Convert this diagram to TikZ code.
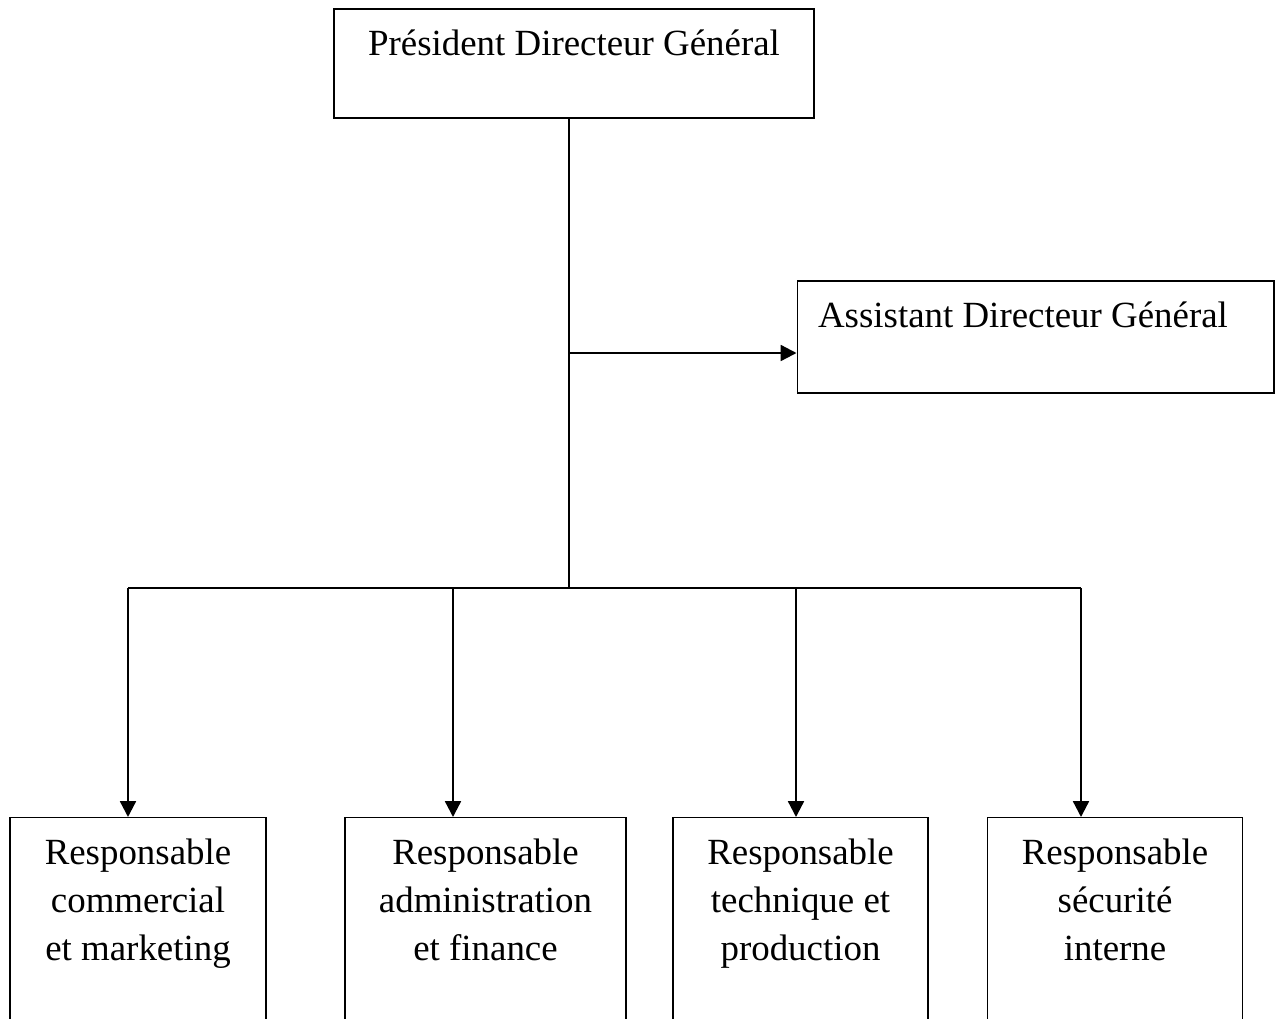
\documentclass[tikz,border=0pt]{standalone}
\usepackage{fontspec}
\setmainfont{Liberation Serif}
\usetikzlibrary{arrows.meta}
\tikzset{
  boite/.style={draw, line width=0.75pt, inner sep=0pt, font=\fontsize{21}{27.3}\selectfont},
  resp/.style={boite, anchor=north, align=flush center, text height=26.7pt, text depth=100pt},
  fleche/.style={line width=1.3pt, -{Triangle[length=9pt,width=9pt]}},
  trait/.style={line width=1.3pt}
}
\begin{document}
\begin{tikzpicture}[x=0.02cm,y=-0.02cm]
\useasboundingbox (0,0) rectangle (1281,1018);
\clip (0,0) rectangle (1281,1018);
\node[boite, minimum width=273.1pt, text height=26.7pt, text depth=35.3pt] (pdg) at (574,63.5) {Président Directeur Général};
\node[boite, text width=247.5pt, inner xsep=11.9pt, align=flush left, text height=26.7pt, text depth=37pt] (adg) at (1035.5,337) {Assistant Directeur Général};
\node[resp, text width=145.7pt] (r1) at (138,817) {Responsable\\commercial\\et marketing};
\node[resp, text width=159.9pt] (r2) at (485.5,817) {Responsable\\administration\\et finance};
\node[resp, text width=145.1pt] (r3) at (800.5,817) {Responsable\\technique et\\production};
\node[resp, text width=145.1pt] (r4) at (1115,817) {Responsable\\sécurité\\interne};
\coordinate (j) at (569,588);
\coordinate (k) at (569,353);
\coordinate (d1) at (128,588);
\coordinate (d2) at (453,588);
\coordinate (d3) at (796,588);
\coordinate (d4) at (1081,588);
\draw[trait] (pdg.south -| j) -- (j);
\draw[fleche] (k) -- (k -| adg.west);
\draw[trait] (d1) -- (d4);
\draw[fleche] (d1) -- (d1 |- r1.north);
\draw[fleche] (d2) -- (d2 |- r2.north);
\draw[fleche] (d3) -- (d3 |- r3.north);
\draw[fleche] (d4) -- (d4 |- r4.north);
\end{tikzpicture}
\end{document}
